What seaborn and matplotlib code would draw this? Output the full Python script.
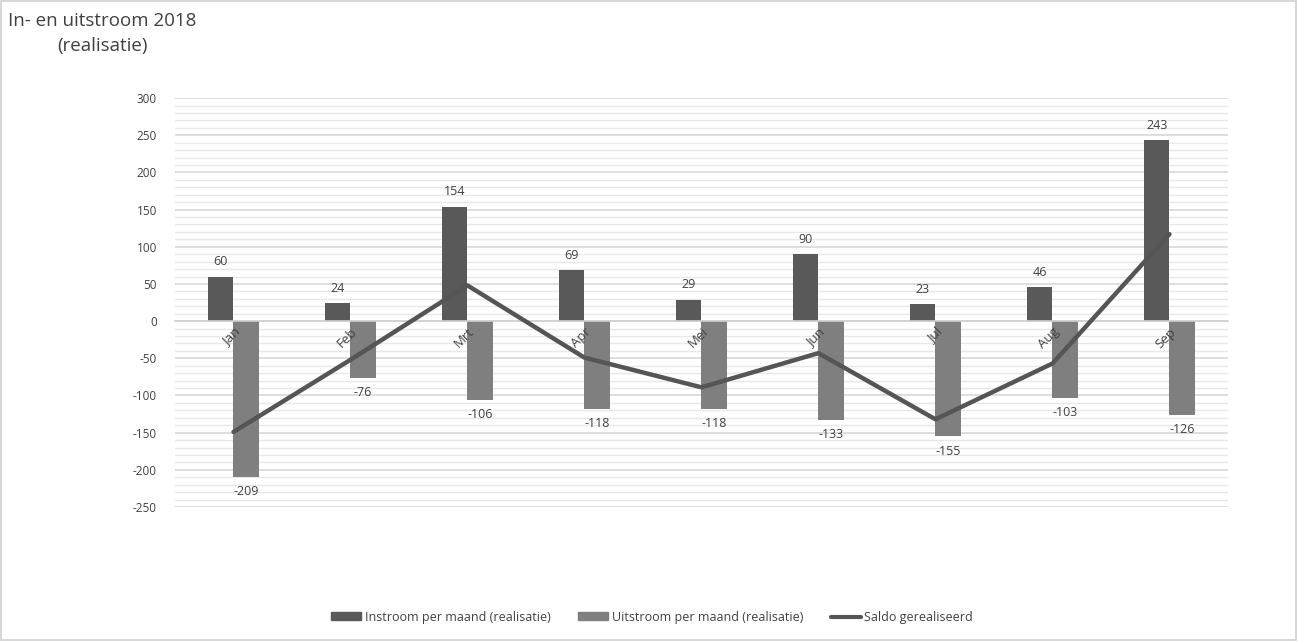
import numpy as np
import pandas as pd
import matplotlib
matplotlib.use("Agg")
import matplotlib.pyplot as plt
from matplotlib.patches import Rectangle, Patch
from matplotlib.lines import Line2D
from matplotlib.ticker import MultipleLocator
import seaborn as sns

months = ["Jan", "Feb", "Mrt", "Apr", "Mei", "Jun", "Jul", "Aug", "Sep"]
instroom = [60, 24, 154, 69, 29, 90, 23, 46, 243]
uitstroom = [-209, -76, -106, -118, -118, -133, -155, -103, -126]
saldo = [-149, -52, 48, -49, -89, -43, -132, -57, 117]

s_in = "Instroom per maand (realisatie)"
s_out = "Uitstroom per maand (realisatie)"
s_saldo = "Saldo gerealiseerd"

c_in = "#595959"
c_out = "#7f7f7f"
c_line = "#555555"
txt = "#404040"

sns.set_theme(style="white")
plt.rcParams['font.family'] = ['Open Sans', 'DejaVu Sans']
plt.rcParams['axes.unicode_minus'] = False

df = pd.DataFrame({
    "maand": months * 2,
    "waarde": instroom + uitstroom,
    "serie": [s_in] * len(months) + [s_out] * len(months),
})

fig = plt.figure(figsize=(12.99, 6.41), dpi=100)
fig.patches.append(Rectangle((0.001, 0.002), 0.997, 0.996, transform=fig.transFigure,
                             fill=False, edgecolor="#d0d0d0", linewidth=1.2))
ax = fig.add_axes([0.1347, 0.209, 0.8106, 0.638])

ax.set_ylim(-250, 300)
ax.yaxis.set_major_locator(MultipleLocator(50))
ax.yaxis.set_minor_locator(MultipleLocator(10))
ax.grid(which="major", axis="y", color="#d4d4d4", linewidth=1.1)
ax.grid(which="minor", axis="y", color="#e8e8e8", linewidth=1.0)
ax.set_axisbelow(True)

sns.barplot(data=df, x="maand", y="waarde", hue="serie", order=months,
            hue_order=[s_in, s_out], palette=[c_in, c_out], dodge=True,
            width=0.43, ax=ax, legend=False, saturation=1, edgecolor="none")

xpos = np.arange(len(months))
sns.lineplot(x=xpos, y=saldo, ax=ax, color=c_line, linewidth=3.2, legend=False, zorder=4)

ax.set_xlim(-0.5, len(months) - 0.5)

# data labels
for cont, vals, va, off in [(ax.containers[0], instroom, "bottom", 6), (ax.containers[1], uitstroom, "top", -6)]:
    for bar, v in zip(cont, vals):
        ax.annotate(f"{v}", (bar.get_x() + bar.get_width() / 2, v), xytext=(0, off),
                    textcoords="offset points", ha="center", va=va, fontsize=9, color=txt)

for sp in ["top", "right", "left"]:
    ax.spines[sp].set_visible(False)
ax.spines["bottom"].set_position(("data", 0))
ax.spines["bottom"].set_color("#d0d0d0")
ax.spines["bottom"].set_linewidth(1.2)

# category labels on top of the bars
ax.set_xticks(xpos)
ax.set_xticklabels([])
ax.tick_params(axis="x", length=0)
for x, m in zip(xpos, months):
    ax.annotate(m, (x, 0), xytext=(0, -3), textcoords="offset points",
                rotation=45, ha="right", va="top", rotation_mode="anchor",
                fontsize=9.5, color=txt, zorder=6)
ax.set_xticks(np.arange(-0.5, len(months), 1), minor=True)
ax.tick_params(axis="x", which="minor", length=4, color="#d0d0d0", direction="out")
ax.tick_params(axis="y", which="both", length=0, labelsize=8.5, labelcolor=txt, pad=13)
ax.set_xlabel("")
ax.set_ylabel("")

fig.text(0.079, 0.982, "In- en uitstroom 2018\n(realisatie)", ha="center", va="top",
         fontsize=13.5, color=txt, linespacing=1.5)

handles = [Patch(color=c_in, label=s_in), Patch(color=c_out, label=s_out),
           Line2D([0], [0], color=c_line, linewidth=3, label=s_saldo)]
fig.legend(handles=handles, loc="center", bbox_to_anchor=(0.502, 0.037), ncol=3, frameon=False,
           fontsize=9, handlelength=2.4, handleheight=0.6, columnspacing=2.2, handletextpad=0.3,
           labelcolor=txt)

fig.savefig("out.png", dpi=100)
